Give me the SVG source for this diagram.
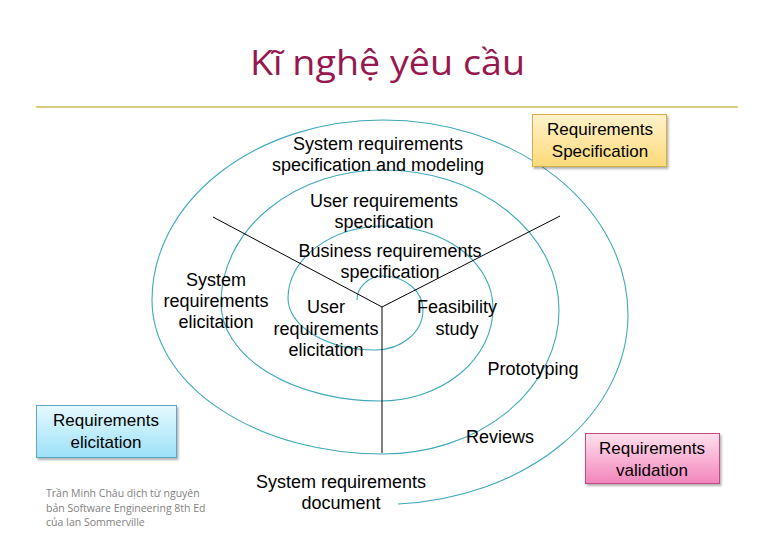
<svg xmlns="http://www.w3.org/2000/svg" width="780" height="540" viewBox="0 0 780 540">
  <style>
    .lbl { font-family: "Liberation Sans", Arial, sans-serif; font-size: 18px; fill: #000; text-anchor: middle; }
    .box { font-family: "Liberation Sans", Arial, sans-serif; font-size: 17px; fill: #000; text-anchor: middle; }
    .spiral { fill: none; stroke: #3EA8BA; stroke-width: 1.1; }
    .axis { fill: none; stroke: #000; stroke-width: 1; }
  </style>
  <defs>
    <linearGradient id="gY" x1="0" y1="0" x2="0" y2="1">
      <stop offset="0" stop-color="#FFF3CC"/>
      <stop offset="1" stop-color="#FDD978"/>
    </linearGradient>
    <linearGradient id="gC" x1="0" y1="0" x2="0" y2="1">
      <stop offset="0" stop-color="#E6F9FF"/>
      <stop offset="1" stop-color="#9CE1F7"/>
    </linearGradient>
    <linearGradient id="gP" x1="0" y1="0" x2="0" y2="1">
      <stop offset="0" stop-color="#FFE0EE"/>
      <stop offset="1" stop-color="#F285BB"/>
    </linearGradient>
    <filter id="sh" x="-10%" y="-10%" width="125%" height="130%">
      <feDropShadow dx="1.5" dy="2" stdDeviation="1.2" flood-color="#000" flood-opacity="0.3"/>
    </filter>
  </defs>
  <rect width="780" height="540" fill="#FFFFFF"/>

  <g id="title">
    <text x="250" y="75" font-family="'Open Sans', 'Noto Sans', sans-serif" font-size="34" fill="#97184F" textLength="275" lengthAdjust="spacingAndGlyphs">Kĩ nghệ yêu cầu</text>
    <line x1="36" y1="107" x2="738" y2="107" stroke="#CDBC55" stroke-width="1.5"/>
  </g>

  <g id="connectors">
    <path class="spiral" d="M357,300 A26,24 0 0 1 383,276 A40,34 0 0 1 423,310 A48,40 0 0 1 375,350 A87,52 0 0 1 288,298 A97,72 0 0 1 385,226 A108,82 0 0 1 493,308 A113,93 0 0 1 380,401 A159,98 0 0 1 221,303 A162,133 0 0 1 383,170 A176,140 0 0 1 559,310 A176,144 0 0 1 383,454 A231,154 0 0 1 152,300 A231,180 0 0 1 383,120 A245,195 0 0 1 628,315 A245,190 0 0 1 398,504"/>
    <line class="axis" x1="213" y1="217" x2="382" y2="307"/>
    <line class="axis" x1="560" y1="216" x2="382" y2="307"/>
    <line class="axis" x1="382" y1="307" x2="382" y2="453"/>
  </g>

  <g id="sys-spec">
    <text class="lbl" x="378" y="150">System requirements</text>
    <text class="lbl" x="378" y="171">specification and modeling</text>
  </g>
  <g id="user-spec">
    <text class="lbl" x="384" y="207">User requirements</text>
    <text class="lbl" x="384" y="228">specification</text>
  </g>
  <g id="business-spec">
    <text class="lbl" x="390" y="257">Business requirements</text>
    <text class="lbl" x="390" y="278">specification</text>
  </g>
  <g id="sys-elicit">
    <text class="lbl" x="216" y="286">System</text>
    <text class="lbl" x="216" y="307">requirements</text>
    <text class="lbl" x="216" y="328">elicitation</text>
  </g>
  <g id="user-elicit">
    <text class="lbl" x="326" y="313">User</text>
    <text class="lbl" x="326" y="335">requirements</text>
    <text class="lbl" x="326" y="356">elicitation</text>
  </g>
  <g id="feasibility">
    <text class="lbl" x="457" y="313">Feasibility</text>
    <text class="lbl" x="457" y="335">study</text>
  </g>
  <g id="prototyping">
    <text class="lbl" x="533" y="375">Prototyping</text>
  </g>
  <g id="reviews">
    <text class="lbl" x="500" y="443">Reviews</text>
  </g>
  <g id="sys-doc">
    <text class="lbl" x="341" y="488">System requirements</text>
    <text class="lbl" x="341" y="509">document</text>
  </g>

  <g id="req-spec">
    <rect x="532.5" y="114.5" width="134" height="52" fill="url(#gY)" stroke="#D5AE45" stroke-width="1" filter="url(#sh)"/>
    <text class="box" x="600" y="135">Requirements</text>
    <text class="box" x="600" y="157">Specification</text>
  </g>
  <g id="req-elicit">
    <rect x="36.5" y="405.5" width="140" height="52" fill="url(#gC)" stroke="#5FA5C4" stroke-width="1" filter="url(#sh)"/>
    <text class="box" x="106" y="426">Requirements</text>
    <text class="box" x="106" y="448">elicitation</text>
  </g>
  <g id="req-valid">
    <rect x="585.5" y="433.5" width="134" height="50" fill="url(#gP)" stroke="#C54A86" stroke-width="1" filter="url(#sh)"/>
    <text class="box" x="652" y="454">Requirements</text>
    <text class="box" x="652" y="476">validation</text>
  </g>

  <g id="credit" font-family="'Open Sans', 'Noto Sans', sans-serif" font-size="10.5" fill="#808080">
    <text x="46" y="497">Trần Minh Châu dịch từ nguyên</text>
    <text x="46" y="512">bản Software Engineering 8th Ed</text>
    <text x="46" y="526">của Ian Sommerville</text>
  </g>
</svg>
